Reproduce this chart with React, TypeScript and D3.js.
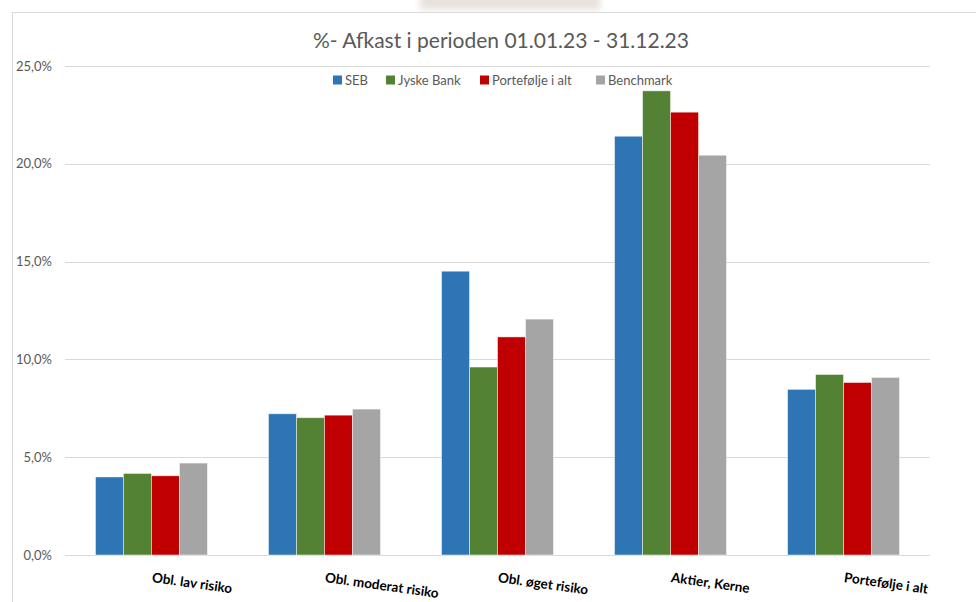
import { useEffect, useRef } from 'react';
import * as d3 from 'd3';

const categories = ['Obl. lav risiko', 'Obl. moderat risiko', 'Obl. øget risiko', 'Aktier, Kerne', 'Portefølje i alt'];
const seriesNames = ['SEB', 'Jyske Bank', 'Portefølje i alt', 'Benchmark'];
const seb = [3.99, 7.22, 14.51, 21.41, 8.47];
const jyske = [4.17, 7.02, 9.61, 23.73, 9.23];
const portefolje = [4.05, 7.15, 11.15, 22.64, 8.82];
const benchmark = [4.7, 7.46, 12.06, 20.44, 9.08];
const yTicks = [0, 5, 10, 15, 20, 25];

const colors = ['#2E75B6', '#548235', '#C00000', '#A5A5A5'];
const series = [seb, jyske, portefolje, benchmark];

const W = 976;
const H = 602;
const font = 'Lato, "Open Sans", sans-serif';

export default function App() {
  const svgRef = useRef<SVGSVGElement>(null);

  useEffect(() => {
    if (!svgRef.current) return;
    const svg = d3.select(svgRef.current);
    svg.selectAll('*').remove();

    const x0 = d3.scaleBand<string>()
      .domain(categories)
      .range([65, 930])
      .paddingInner(0.353)
      .paddingOuter(0.176);

    const x1 = d3.scaleBand<string>()
      .domain(seriesNames)
      .range([0, x0.bandwidth()]);

    const y = d3.scaleLinear().domain([0, 25]).range([555, 66]);

    // faint blurred header remnant at the top
    const defs = svg.append('defs');
    defs.append('filter').attr('id', 'blur')
      .append('feGaussianBlur').attr('stdDeviation', 3);
    svg.append('rect')
      .attr('x', 420).attr('y', -6).attr('width', 180).attr('height', 16)
      .attr('fill', '#d8cfc6').attr('opacity', 0.6)
      .attr('filter', 'url(#blur)');

    // chart frame
    svg.append('rect')
      .attr('x', 12.5).attr('y', 12.5)
      .attr('width', W).attr('height', H)
      .attr('fill', 'white')
      .attr('stroke', '#d9d9d9')
      .attr('stroke-width', 1);

    // gridlines
    svg.append('g')
      .selectAll('line')
      .data(yTicks)
      .join('line')
      .attr('x1', 65).attr('x2', 930)
      .attr('y1', d => Math.round(y(d)) + 0.5)
      .attr('y2', d => Math.round(y(d)) + 0.5)
      .attr('stroke', '#d9d9d9')
      .attr('stroke-width', 1);

    // y labels
    svg.append('g')
      .selectAll('text')
      .data(yTicks)
      .join('text')
      .attr('x', 52)
      .attr('y', d => y(d) + 4.5)
      .attr('text-anchor', 'end')
      .style('font-family', font)
      .style('font-size', '13px')
      .attr('fill', '#595959')
      .text(d => d3.format('.1f')(d).replace('.', ',') + '%');

    // bars
    const groups = svg.append('g')
      .selectAll('g')
      .data(categories)
      .join('g')
      .attr('transform', d => `translate(${x0(d)},0)`);

    groups.selectAll('rect')
      .data((_, i) => series.map((s, k) => ({ name: seriesNames[k], value: s[i], color: colors[k] })))
      .join('rect')
      .attr('x', d => x1(d.name)!)
      .attr('y', d => y(d.value))
      .attr('width', x1.bandwidth())
      .attr('height', d => y(0) - y(d.value))
      .attr('fill', d => d.color)
      .attr('stroke', 'white')
      .attr('stroke-opacity', 0.6)
      .attr('stroke-width', 0.8);

    // category labels (slightly tilted)
    svg.append('g')
      .selectAll('text')
      .data(categories)
      .join('text')
      .attr('transform', d => `translate(${x0(d)! + x0.bandwidth() / 2},582) rotate(8)`)
      .attr('text-anchor', 'start')
      .style('font-family', font)
      .style('font-size', '13.5px')
      .style('font-weight', 'bold')
      .attr('fill', '#000')
      .text(d => d);

    // title
    svg.append('text')
      .attr('x', 501).attr('y', 48)
      .attr('text-anchor', 'middle')
      .style('font-family', font)
      .style('font-size', '21px')
      .attr('fill', '#595959')
      .text('%- Afkast i perioden 01.01.23 - 31.12.23');

    // legend
    const legendX = [333, 386, 480, 596];
    const legend = svg.append('g')
      .selectAll('g')
      .data(seriesNames)
      .join('g')
      .attr('transform', (_, i) => `translate(${legendX[i]},80)`);
    legend.append('rect')
      .attr('x', 0).attr('y', -4.5)
      .attr('width', 9).attr('height', 9)
      .attr('fill', (_, i) => colors[i]);
    legend.append('text')
      .attr('x', 12).attr('y', 4.5)
      .style('font-family', font)
      .style('font-size', '13px')
      .attr('fill', '#595959')
      .text(d => d);
  }, []);

  return (
    <div style={{ position: 'absolute', left: 0, top: 0, width: W, height: H, background: 'white' }}>
      <svg ref={svgRef} width={W} height={H} />
    </div>
  );
}
